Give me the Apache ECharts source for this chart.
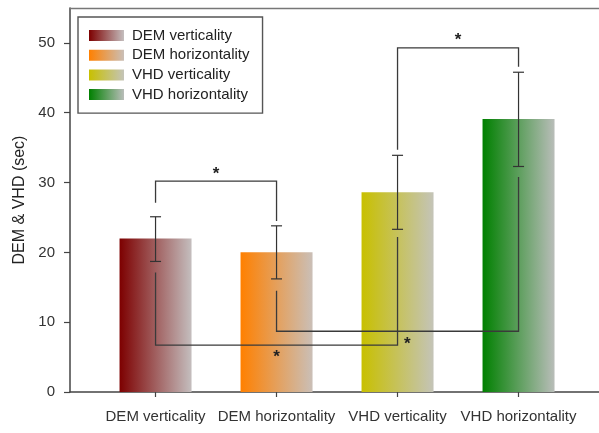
<!DOCTYPE html>
<html><head><meta charset="utf-8">
<script src="https://cdn.jsdelivr.net/npm/echarts@6/dist/echarts.min.js"></script>
<style>html,body{margin:0;padding:0;background:#fff}#c{width:599px;height:433px}</style>
</head><body><div id="c"></div>
<script>
const categories = ['DEM verticality', 'DEM horizontality', 'VHD verticality', 'VHD horizontality'];
const means = [22.0, 20.0, 28.6, 39.1];
const errLow = [18.7, 16.2, 23.3, 32.3];
const errHigh = [25.1, 23.8, 33.9, 45.8];
const barStartColors = ['#7d0000', '#ff8000', '#c8c000', '#008000'];
const barEndColors = ['#c4bebe', '#cabfb7', '#c4c4b8', '#b9bdb9'];
const yTicks = [0, 10, 20, 30, 40, 50];
// significance brackets: [fromCat, toCat, level, endAtFrom, endAtTo]
const brackets = [
  [0, 1, 30.2, 27.1, 24.5],
  [2, 3, 49.3, 34.7, 46.6],
  [0, 2, 6.7, 17.1, 22.2],
  [1, 3, 8.7, 14.5, 30.8]
];
// star marks: [x (category units), y]
const stars = [[0.5, 31.7], [2.5, 50.9], [1.0, 5.6], [2.08, 7.4]];

const FONT = '"Liberation Sans", Arial, sans-serif';
const chart = echarts.init(document.getElementById('c'));

function grad(i) {
  return new echarts.graphic.LinearGradient(0, 0, 1, 0, [
    { offset: 0, color: barStartColors[i] },
    { offset: 1, color: barEndColors[i] }
  ]);
}

const barSeries = categories.map((name, i) => ({
  name: name,
  type: 'bar',
  barWidth: 72,
  barGap: '-100%',
  itemStyle: { color: grad(i) },
  data: [[i, means[i]]],
  z: 2
}));

const catIdx = categories.map((c, i) => i);
const XMIN = -0.707, XMAX = 3.665;

const option = {
  animation: false,
  grid: { left: 70, top: 8, right: 0, bottom: 41 },
  legend: {
    orient: 'vertical', left: 78, top: 17,
    data: categories.map(n => ({ name: n, icon: 'rect' })),
    itemWidth: 35, itemHeight: 11, itemGap: 4.7,
    padding: [11, 13, 11, 11],
    borderColor: '#555', borderWidth: 1.4,
    textStyle: { fontFamily: FONT, fontSize: 15, color: '#222', lineHeight: 15, padding: [0, 0, 0, 3] }
  },
  xAxis: [{
    type: 'value', min: XMIN, max: XMAX,
    splitLine: { show: false },
    axisLine: { show: true, lineStyle: { color: '#444', width: 1.5 } },
    axisTick: { show: true, length: 5, customValues: catIdx, lineStyle: { color: '#444', width: 1.2 } },
    axisLabel: {
      customValues: catIdx, margin: 17,
      formatter: v => categories[Math.round(v)],
      fontFamily: FONT, fontSize: 15, color: '#333'
    }
  }, {
    type: 'value', position: 'top', min: XMIN, max: XMAX,
    splitLine: { show: false },
    axisLine: { show: true, onZero: false, lineStyle: { color: '#777', width: 1.3 } },
    axisTick: { show: false }, axisLabel: { show: false }
  }],
  yAxis: {
    type: 'value', min: 0, max: 55,
    name: 'DEM & VHD (sec)', nameLocation: 'middle', nameGap: 38,
    nameTextStyle: { fontFamily: FONT, fontSize: 16, color: '#222' },
    splitLine: { show: false },
    axisLine: { show: true, onZero: false, lineStyle: { color: '#444', width: 1.5 } },
    axisTick: { show: true, length: 6, customValues: yTicks, lineStyle: { color: '#444', width: 1.2 } },
    axisLabel: { customValues: yTicks, margin: 15, fontFamily: FONT, fontSize: 15, color: '#333' }
  },
  series: barSeries.concat([
    {
      type: 'custom', name: 'err', clip: false, z: 5,
      data: catIdx.map(i => [i, errLow[i], errHigh[i]]),
      renderItem: function (params, api) {
        const x = api.value(0);
        const lo = api.coord([x, api.value(1)]);
        const hi = api.coord([x, api.value(2)]);
        const h = 5.5;
        const st = { stroke: '#333', lineWidth: 1.2 };
        return { type: 'group', children: [
          { type: 'line', shape: { x1: lo[0], y1: lo[1], x2: hi[0], y2: hi[1] }, style: st },
          { type: 'line', shape: { x1: lo[0] - h, y1: lo[1], x2: lo[0] + h, y2: lo[1] }, style: st },
          { type: 'line', shape: { x1: hi[0] - h, y1: hi[1], x2: hi[0] + h, y2: hi[1] }, style: st }
        ] };
      }
    },
    {
      type: 'custom', name: 'brackets', clip: false, z: 6,
      data: brackets,
      renderItem: function (params, api) {
        const a = api.value(0), b = api.value(1), lv = api.value(2);
        const pts = [api.coord([a, api.value(3)]), api.coord([a, lv]), api.coord([b, lv]), api.coord([b, api.value(4)])];
        return { type: 'polyline', shape: { points: pts }, style: { stroke: '#3a3a3a', lineWidth: 1.3, fill: null } };
      }
    },
    {
      type: 'custom', name: 'stars', clip: false, z: 7,
      data: stars,
      renderItem: function (params, api) {
        const p = api.coord([api.value(0), api.value(1)]);
        return { type: 'text', x: p[0], y: p[1] + 4, style: { text: '*', fill: '#222', font: 'bold 17px ' + FONT, align: 'center', verticalAlign: 'middle' } };
      }
    }
  ])
};
chart.setOption(option);
</script>
</body></html>
